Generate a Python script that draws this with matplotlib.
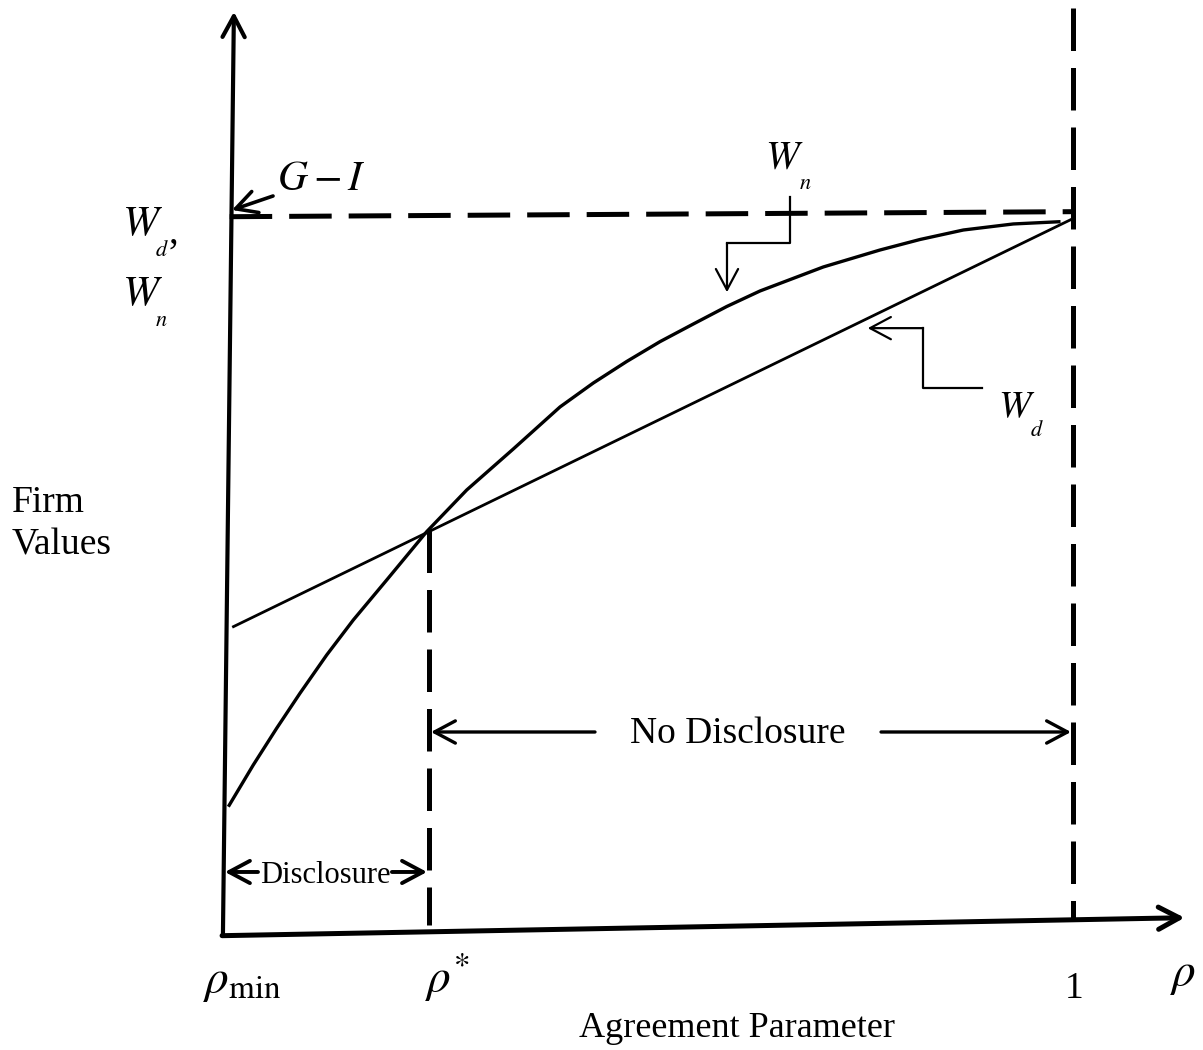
#!/usr/bin/env python3
# -*- coding: utf-8 -*-
"""
Disclosure diagram: firm values W_d (disclosure) and W_n (no disclosure)
against the agreement parameter rho, from rho_min to 1.
"""
import matplotlib
matplotlib.use('Agg')
import matplotlib.pyplot as plt

plt.rcParams['font.family'] = 'serif'
plt.rcParams['font.serif'] = ['Liberation Serif', 'DejaVu Serif']
plt.rcParams['mathtext.fontset'] = 'stix'

# ── Data (x: rho scaled so rho_min = 0 and 1 = 1; y: value, G - I = 1) ─────
wn_x = [0.0004, 0.0299, 0.0576, 0.0852, 0.1168, 0.1483, 0.1878, 0.2351,
        0.2825, 0.3376, 0.3929, 0.4323, 0.4718, 0.5112, 0.5507, 0.5902,
        0.6296, 0.7045, 0.7716, 0.8189, 0.8702, 0.9293, 0.9852]
wn_y = [0.1784, 0.2364, 0.2875, 0.3362, 0.3894, 0.4381, 0.4937, 0.5609,
        0.6189, 0.6759, 0.7344, 0.7677, 0.7976, 0.8252, 0.8498, 0.8741,
        0.8957, 0.9291, 0.9527, 0.9673, 0.9805, 0.9889, 0.9921]

wd_x = [0.005, 1.001]
wd_y = [0.428, 0.997]

rho_star = 0.238
rho_one = 1.0
gi_x = [0.002, 1.001]          # G - I level line
gi_y = [0.999, 1.006]

# axes of the sketch (drawn by hand, slightly tilted)
yaxis_x = [-0.006, 0.007]
yaxis_y = [-0.001, 1.284]
xaxis_x = [-0.007, 1.132]
xaxis_y = [-0.001, 0.024]

# pointer paths for the curve labels
wn_ptr_x = [0.665, 0.665, 0.5905, 0.5905]
wn_ptr_y = [1.026, 0.962, 0.962, 0.894]
wd_ptr_x = [0.892, 0.8225, 0.8225, 0.757]
wd_ptr_y = [0.761, 0.761, 0.844, 0.844]

# ── Figure ───────────────────────────────────────────────────────────────────
fig = plt.figure(figsize=(12.03, 10.5), dpi=100)
ax = fig.add_axes([0, 0, 1, 1])
ax.set_xlim(-0.2698, 1.1538)
ax.set_ylim(-0.16, 1.3004)
ax.axis('off')

ARROW = '->,head_length=0.75,head_width=0.4'


def arrow(x0, y0, x1, y1, lw):
    ax.annotate('', xy=(x1, y1), xytext=(x0, y0),
                arrowprops=dict(arrowstyle=ARROW, lw=lw, color='k',
                                mutation_scale=20, shrinkA=0, shrinkB=0))


def wlabel(x, y, sub, size=31, dx=24, dy=-15):
    ax.text(x, y, '$W$', fontsize=size, ha='left', va='baseline')
    ax.annotate('$%s$' % sub, xy=(x, y), xytext=(dx, dy),
                textcoords='offset points', fontsize=16,
                ha='left', va='baseline')


# axes with arrowheads
arrow(yaxis_x[0], yaxis_y[0], yaxis_x[1], yaxis_y[1], 3.0)
arrow(xaxis_x[0], xaxis_y[0], xaxis_x[1], xaxis_y[1], 3.6)

# dashed guide lines
dash = (0, (8.5, 3.4))
ax.plot(gi_x, gi_y, color='k', lw=3.6, linestyle=dash, dash_capstyle='butt')
ax.plot([rho_one, rho_one], [1.289, 0.024], color='k', lw=3.6,
        linestyle=dash, dash_capstyle='butt')
ax.plot([rho_star, rho_star], [0.563, 0.014], color='k', lw=3.6,
        linestyle=dash, dash_capstyle='butt')

# value curves
ax.plot(wn_x, wn_y, color='k', lw=2.4, solid_capstyle='butt',
        solid_joinstyle='round')
ax.plot(wd_x, wd_y, color='k', lw=2.0, solid_capstyle='butt')

# pointers to the curves
ax.plot(wn_ptr_x[:3], wn_ptr_y[:3], color='k', lw=1.6)
arrow(wn_ptr_x[2], wn_ptr_y[2], wn_ptr_x[3], wn_ptr_y[3], 1.6)
ax.plot(wd_ptr_x[:3], wd_ptr_y[:3], color='k', lw=1.6)
arrow(wd_ptr_x[2], wd_ptr_y[2], wd_ptr_x[3], wd_ptr_y[3], 1.6)

# G - I
arrow(0.0533, 1.0278, 0.0047, 1.0083, 2.6)
ax.text(0.058, 1.036, '$G-I$', fontsize=30, ha='left', va='baseline')

# curve labels
wlabel(-0.1254, 0.9736, 'd')
ax.text(-0.0700, 0.9624, ',', fontsize=28, ha='left', va='baseline')
wlabel(-0.1254, 0.8762, 'n')
wlabel(0.636, 1.066, 'n', size=29, dx=24, dy=-15)
wlabel(0.911, 0.7204, 'd', size=28, dx=23, dy=-14)

# y label
ax.text(-0.2556, 0.5883, 'Firm', fontsize=27, ha='left', va='baseline')
ax.text(-0.2556, 0.5285, 'Values', fontsize=27, ha='left', va='baseline')

# regions
arrow(0.4343, 0.2823, 0.2402, 0.2823, 2.4)
arrow(0.7728, 0.2823, 0.9976, 0.2823, 2.4)
ax.text(0.6036, 0.267, 'No Disclosure', fontsize=27, ha='center',
        va='baseline')

arrow(0.0355, 0.0876, -0.0036, 0.0876, 2.8)
arrow(0.194, 0.0876, 0.2355, 0.0876, 2.8)
ax.text(0.1148, 0.0723, 'Disclosure', fontsize=22, ha='center',
        va='baseline')

# x tick labels
ax.text(-0.0296, -0.0793, r'$\rho_{\min}$', fontsize=34, ha='left',
        va='baseline')
ax.text(0.2331, -0.0793, r'$\rho^{*}$', fontsize=34, ha='left',
        va='baseline')
ax.text(1.0012, -0.0876, '1', fontsize=27, ha='center', va='baseline')
ax.text(1.1148, -0.0695, r'$\rho$', fontsize=34, ha='left', va='baseline')
ax.text(0.6024, -0.1419, 'Agreement Parameter', fontsize=26, ha='center',
        va='baseline')

fig.savefig('out.png', dpi=100)
